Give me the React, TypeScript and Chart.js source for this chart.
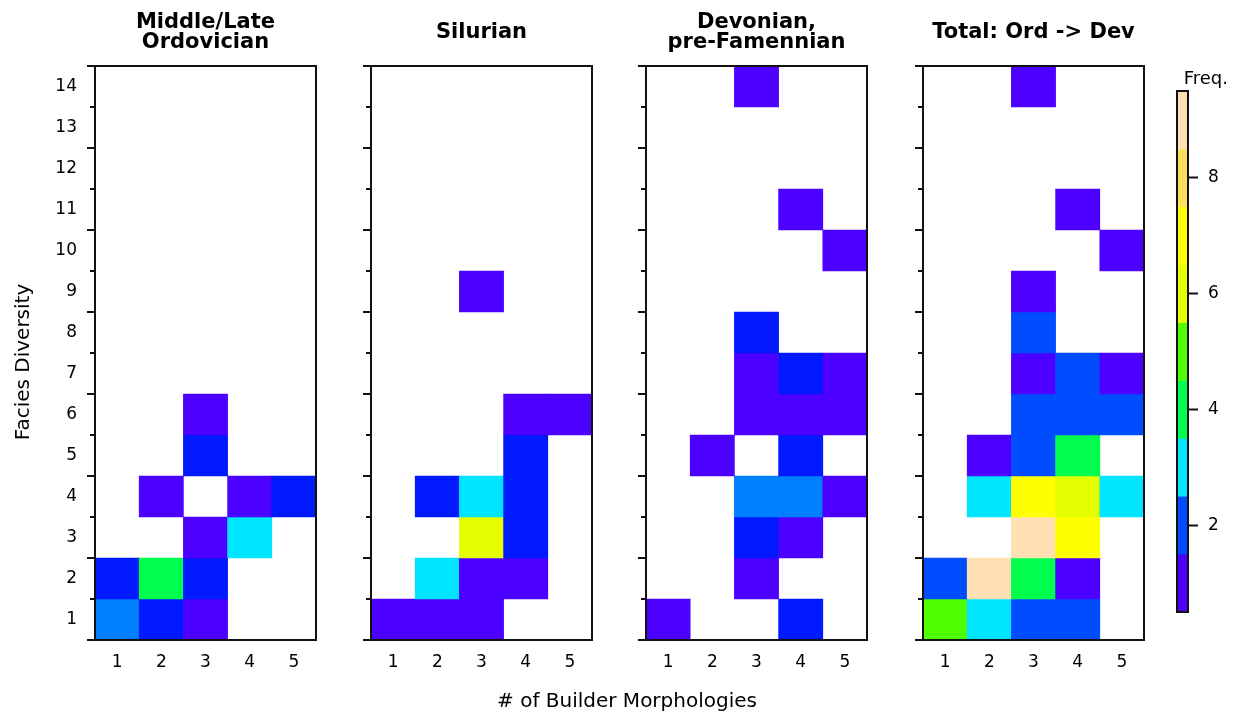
import React, { useEffect, useRef } from 'react';
import { Chart, registerables } from 'chart.js';

Chart.register(...registerables);

// ---------- data ----------
const COLS = ['1', '2', '3', '4', '5'];
const ROWS = [1, 2, 3, 4, 5, 6, 7, 8, 9, 10, 11, 12, 13, 14];
const CB_TICKS = [2, 4, 6, 8];
const FREQ_LEVELS = [1, 2, 3, 4, 5, 6, 7, 8, 9];

// counts: one row per facies diversity (1..14), one column per builder morphology count (1..5); 0 = empty
const ORDOVICIAN = [
  [3, 2, 1, 0, 0],
  [2, 5, 2, 0, 0],
  [0, 0, 1, 4, 0],
  [0, 1, 0, 1, 2],
  [0, 0, 2, 0, 0],
  [0, 0, 1, 0, 0],
  [0, 0, 0, 0, 0],
  [0, 0, 0, 0, 0],
  [0, 0, 0, 0, 0],
  [0, 0, 0, 0, 0],
  [0, 0, 0, 0, 0],
  [0, 0, 0, 0, 0],
  [0, 0, 0, 0, 0],
  [0, 0, 0, 0, 0],
];
const SILURIAN = [
  [1, 1, 1, 0, 0],
  [0, 4, 1, 1, 0],
  [0, 0, 6, 2, 0],
  [0, 2, 4, 2, 0],
  [0, 0, 0, 2, 0],
  [0, 0, 0, 1, 1],
  [0, 0, 0, 0, 0],
  [0, 0, 0, 0, 0],
  [0, 0, 1, 0, 0],
  [0, 0, 0, 0, 0],
  [0, 0, 0, 0, 0],
  [0, 0, 0, 0, 0],
  [0, 0, 0, 0, 0],
  [0, 0, 0, 0, 0],
];
const DEVONIAN = [
  [1, 0, 0, 2, 0],
  [0, 0, 1, 0, 0],
  [0, 0, 2, 1, 0],
  [0, 0, 3, 3, 1],
  [0, 1, 0, 2, 0],
  [0, 0, 1, 1, 1],
  [0, 0, 1, 2, 1],
  [0, 0, 2, 0, 0],
  [0, 0, 0, 0, 0],
  [0, 0, 0, 0, 1],
  [0, 0, 0, 1, 0],
  [0, 0, 0, 0, 0],
  [0, 0, 0, 0, 0],
  [0, 0, 1, 0, 0],
];
const TOTAL = [
  [5, 3, 2, 2, 0],
  [2, 9, 4, 1, 0],
  [0, 0, 9, 7, 0],
  [0, 3, 7, 6, 3],
  [0, 1, 2, 4, 0],
  [0, 0, 2, 2, 2],
  [0, 0, 1, 2, 1],
  [0, 0, 2, 0, 0],
  [0, 0, 1, 0, 0],
  [0, 0, 0, 0, 1],
  [0, 0, 0, 1, 0],
  [0, 0, 0, 0, 0],
  [0, 0, 0, 0, 0],
  [0, 0, 1, 0, 0],
];

const TITLES = [
  ['Middle/Late', 'Ordovician'],
  ['Silurian'],
  ['Devonian,', 'pre-Famennian'],
  ['Total: Ord -> Dev'],
];

// ---------- styles ----------
const FONT = 'DejaVu Sans';
const PAL_A = ['#4C00FF', '#0019FF', '#0080FF', '#00E5FF', '#00FF4D', '#E6FF00'];
const PAL_TOTAL = ['#4C00FF', '#004DFF', '#00E6FF', '#00FF4D', '#4DFF00', '#E6FF00', '#FFFF00', '#FFDE59', '#FFE0B3'];
const PANELS = [
  { counts: ORDOVICIAN, pal: PAL_A },
  { counts: SILURIAN, pal: ['#4C00FF', '#0019FF', '#0080FF', '#00E5FF', '#4DFF00', '#E6FF00'] },
  { counts: DEVONIAN, pal: PAL_A },
  { counts: TOTAL, pal: PAL_TOTAL },
];
const PANEL_LEFTS = [95, 371, 646, 923];
const PANEL_W = 221;
const PLOT_TOP = 66;
const PLOT_BOTTOM = 640;
const H = 715;
const TICK_SIZE = 17;

const boxPlugin = {
  id: 'boxPlugin',
  afterDraw(chart: any, _args: any, opts: any) {
    const { ctx, chartArea } = chart;
    const { left, right, top, bottom } = chartArea;
    ctx.save();
    ctx.strokeStyle = '#111';
    ctx.lineWidth = 2;
    if (opts.halfTicks) {
      const ys = chart.scales.y;
      for (let k = 0; k <= ROWS.length; k++) {
        const v = ROWS[0] - 0.5 + k;
        const y = ys.getPixelForValue(v);
        const len = k % 2 === 0 ? 8 : 5;
        ctx.beginPath();
        ctx.moveTo(left - len, y);
        ctx.lineTo(left, y);
        ctx.stroke();
      }
    }
    ctx.strokeRect(left, top, right - left, bottom - top);
    if (opts.title) {
      ctx.fillStyle = '#000';
      ctx.font = `bold 21px "${FONT}"`;
      ctx.textAlign = 'center';
      ctx.textBaseline = 'middle';
      const n = opts.title.length;
      const cx = (left + right) / 2;
      opts.title.forEach((line: string, i: number) => {
        ctx.fillText(line, cx, top - 33 + (i - (n - 1) / 2) * 20);
      });
    }
    ctx.restore();
  },
};

function buildPanel(canvas: HTMLCanvasElement, idx: number) {
  const { counts, pal } = PANELS[idx];
  const pts: any[] = [];
  const colors: string[] = [];
  counts.forEach((row, r) => {
    row.forEach((v, c) => {
      if (v > 0) {
        pts.push({ x: COLS[c], y: [ROWS[r] - 0.5, ROWS[r] + 0.5] });
        colors.push(pal[v - 1]);
      }
    });
  });
  const yw = idx === 0 ? PANEL_LEFTS[0] : 30;
  return new Chart(canvas, {
    type: 'bar',
    data: {
      labels: COLS,
      datasets: [
        {
          data: pts,
          backgroundColor: colors,
          borderWidth: 0,
          borderSkipped: false,
          barPercentage: 1,
          categoryPercentage: 1,
        } as any,
      ],
    },
    options: {
      animation: false,
      responsive: false,
      events: [],
      layout: { padding: { top: PLOT_TOP, left: 0, right: 4, bottom: 0 } },
      plugins: {
        legend: { display: false },
        tooltip: { enabled: false },
        boxPlugin: { halfTicks: true, title: TITLES[idx] },
      } as any,
      scales: {
        x: {
          type: 'category',
          offset: true,
          grid: { display: false, drawTicks: false },
          border: { display: false },
          ticks: { color: '#000', font: { family: FONT, size: TICK_SIZE }, padding: 12, maxRotation: 0 },
          afterFit: (s: any) => {
            s.height = H - PLOT_BOTTOM;
          },
        },
        y: {
          type: 'linear',
          min: ROWS[0] - 0.5,
          max: ROWS[ROWS.length - 1] + 0.5,
          grid: { display: false, drawTicks: false },
          border: { display: false },
          afterBuildTicks: (s: any) => {
            s.ticks = ROWS.map((v) => ({ value: v }));
          },
          ticks: {
            display: idx === 0,
            color: '#000',
            font: { family: FONT, size: TICK_SIZE },
            padding: 18,
            callback: (v: any) => String(v),
          },
          afterFit: (s: any) => {
            s.width = yw;
          },
        },
      },
    } as any,
    plugins: [boxPlugin],
  });
}

function buildColorbar(canvas: HTMLCanvasElement) {
  return new Chart(canvas, {
    type: 'bar',
    data: {
      labels: ['Freq.'],
      datasets: [
        {
          data: FREQ_LEVELS.map((v) => ({ x: 'Freq.', y: [v - 0.5, v + 0.5] })),
          backgroundColor: FREQ_LEVELS.map((v) => PAL_TOTAL[v - 1]),
          borderWidth: 0,
          borderSkipped: false,
          barPercentage: 1,
          categoryPercentage: 1,
        } as any,
      ],
    },
    options: {
      animation: false,
      responsive: false,
      events: [],
      layout: { padding: { left: 27, right: 5, top: 0, bottom: 103 } },
      plugins: {
        legend: { display: false },
        tooltip: { enabled: false },
        title: {
          display: true,
          text: 'Freq.',
          align: 'end',
          color: '#000',
          font: { family: FONT, size: 18, weight: 'normal', lineHeight: '20px' },
          padding: { top: 69, bottom: 2 },
        },
        boxPlugin: { halfTicks: false },
      } as any,
      scales: {
        x: { type: 'category', display: false },
        y: {
          type: 'linear',
          position: 'right',
          min: FREQ_LEVELS[0] - 0.5,
          max: FREQ_LEVELS[FREQ_LEVELS.length - 1] + 0.5,
          afterBuildTicks: (s: any) => {
            s.ticks = CB_TICKS.map((v) => ({ value: v }));
          },
          grid: { display: true, drawOnChartArea: false, drawTicks: true, tickLength: 10, tickWidth: 2, tickColor: '#111' },
          border: { display: false },
          ticks: { color: '#000', font: { family: FONT, size: TICK_SIZE }, padding: 10, callback: (v: any) => String(v) },
          afterFit: (s: any) => {
            s.width = 40;
          },
        },
      },
    } as any,
    plugins: [boxPlugin],
  });
}

export default function App() {
  const p0 = useRef<HTMLCanvasElement>(null);
  const p1 = useRef<HTMLCanvasElement>(null);
  const p2 = useRef<HTMLCanvasElement>(null);
  const p3 = useRef<HTMLCanvasElement>(null);
  const cb = useRef<HTMLCanvasElement>(null);
  const refs = [p0, p1, p2, p3];

  useEffect(() => {
    const charts: Chart[] = [];
    refs.forEach((r, i) => {
      if (r.current) charts.push(buildPanel(r.current, i));
    });
    if (cb.current) charts.push(buildColorbar(cb.current));
    return () => charts.forEach((c) => c.destroy());
  }, []);

  const canvasStyle = (left: number, width: number): React.CSSProperties => ({
    position: 'absolute',
    left,
    top: 0,
    width,
    height: H,
  });

  return (
    <div
      style={{
        position: 'fixed',
        left: 0,
        top: 0,
        width: 1233,
        height: 715,
        background: '#fff',
        overflow: 'hidden',
        fontFamily: FONT,
        color: '#000',
      }}
    >
      {refs.map((r, i) => {
        const yw = i === 0 ? PANEL_LEFTS[0] : 30;
        const left = PANEL_LEFTS[i] - yw;
        const width = yw + PANEL_W + 4;
        return <canvas key={i} ref={r} width={width} height={H} style={canvasStyle(left, width)} />;
      })}
      <canvas ref={cb} width={83} height={H} style={canvasStyle(1150, 83)} />
      <div
        style={{
          position: 'absolute',
          left: 0,
          width: 1254,
          top: 688,
          height: 24,
          lineHeight: '24px',
          textAlign: 'center',
          fontSize: 20,
        }}
      >
        # of Builder Morphologies
      </div>
      <div
        style={{
          position: 'absolute',
          left: 22 - 150,
          width: 300,
          top: 362 - 12,
          height: 24,
          lineHeight: '24px',
          textAlign: 'center',
          fontSize: 20,
          transform: 'rotate(-90deg)',
        }}
      >
        Facies Diversity
      </div>
    </div>
  );
}
